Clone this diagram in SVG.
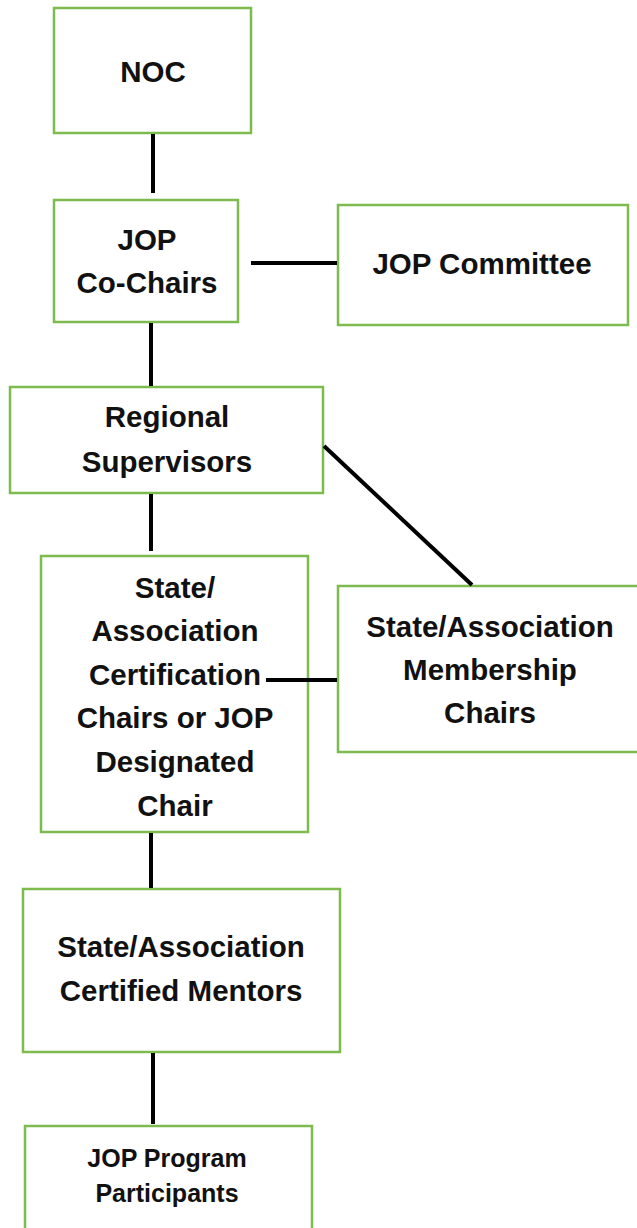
<svg xmlns="http://www.w3.org/2000/svg" width="637" height="1228" viewBox="0 0 637 1228">
<style>
.box{fill:#fff;stroke:#7dbb4e;stroke-width:2.5}
.t{font-family:"Liberation Sans",Arial,sans-serif;font-weight:bold;font-size:29.5px;fill:#111;text-anchor:middle}
.s{font-size:25px}
.c{stroke:#000;stroke-width:4;fill:none}
</style>
<rect width="637" height="1228" fill="#fff"/>
<g id="noc"><rect class="box" x="54" y="8" width="197" height="125"/><text class="t" x="153" y="82">NOC</text></g>
<g id="cochairs"><rect class="box" x="54" y="200" width="184" height="122"/><text class="t" x="147" y="250">JOP</text><text class="t" x="147" y="293">Co-Chairs</text></g>
<g id="committee"><rect class="box" x="338" y="205" width="290" height="120"/><text class="t" x="482" y="274">JOP Committee</text></g>
<g id="regional"><rect class="box" x="10" y="387" width="313" height="106"/><text class="t" x="167" y="427">Regional</text><text class="t" x="167" y="472">Supervisors</text></g>
<g id="certchairs"><rect class="box" x="41" y="556" width="267" height="276"/>
<text class="t" x="175" y="598">State/</text>
<text class="t" x="175" y="641">Association</text>
<text class="t" x="175" y="685">Certification</text>
<text class="t" x="175" y="728">Chairs or JOP</text>
<text class="t" x="175" y="772">Designated</text>
<text class="t" x="175" y="816">Chair</text></g>
<g id="membership"><rect class="box" x="338" y="586" width="306" height="166"/>
<text class="t" x="490" y="637">State/Association</text>
<text class="t" x="490" y="680">Membership</text>
<text class="t" x="490" y="723">Chairs</text></g>
<g id="mentors"><rect class="box" x="23" y="889" width="317" height="163"/>
<text class="t" x="181" y="957">State/Association</text>
<text class="t" x="181" y="1001">Certified Mentors</text></g>
<g id="participants"><rect class="box" x="25" y="1126" width="287" height="110"/>
<text class="t s" x="167" y="1167">JOP Program</text>
<text class="t s" x="167" y="1202">Participants</text></g>
<g id="connectors">
<line class="c" x1="153" y1="134" x2="153" y2="193"/>
<line class="c" x1="251" y1="263" x2="337" y2="263"/>
<line class="c" x1="151" y1="323" x2="151" y2="386"/>
<line class="c" x1="324" y1="446" x2="472" y2="585"/>
<line class="c" x1="151" y1="494" x2="151" y2="551"/>
<line class="c" x1="266" y1="680" x2="337" y2="680"/>
<line class="c" x1="151" y1="833" x2="151" y2="888"/>
<line class="c" x1="153" y1="1053" x2="153" y2="1124"/>
</g>
</svg>
